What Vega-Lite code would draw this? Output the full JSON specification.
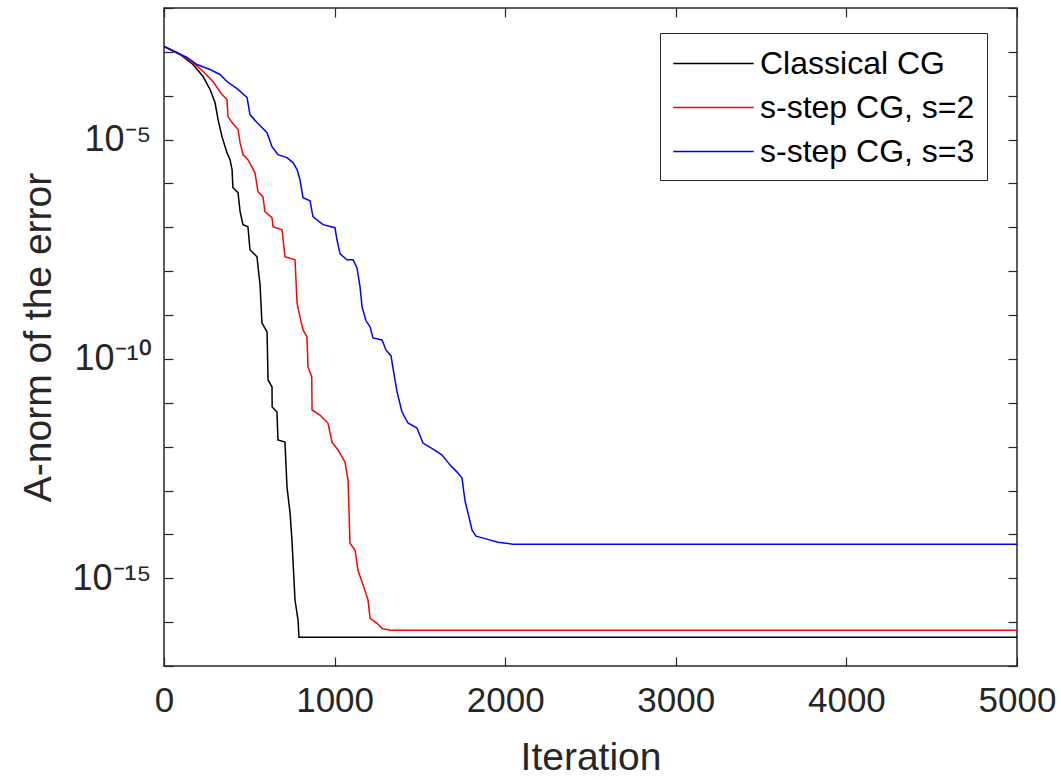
{
  "$schema": "https://vega.github.io/schema/vega-lite/v6.json",
  "autosize": {"type": "none"},
  "padding": {"left": 164, "top": 8, "right": 44, "bottom": 114},
  "width": 853,
  "height": 658,
  "background": "white",
  "config": {
    "view": {"stroke": "#262626", "strokeWidth": 1.5},
    "font": "Liberation Sans",
    "axis": {
      "domain": false,
      "grid": false,
      "tickColor": "#262626",
      "tickWidth": 1.2,
      "tickSize": -9,
      "labelColor": "#262626",
      "titleColor": "#262626",
      "labelFont": "Liberation Sans",
      "titleFont": "Liberation Sans",
      "titleFontWeight": "normal",
      "labelFontSize": 35,
      "titleFontSize": 39
    }
  },
  "data": {
    "values": [
      {"s": "Classical CG", "it": 0, "e": 1.33e-3},
      {"s": "Classical CG", "it": 94, "e": 8.7e-4},
      {"s": "Classical CG", "it": 170, "e": 5.15e-4},
      {"s": "Classical CG", "it": 229, "e": 2.74e-4},
      {"s": "Classical CG", "it": 270, "e": 1.39e-4},
      {"s": "Classical CG", "it": 299, "e": 7.0e-5},
      {"s": "Classical CG", "it": 317, "e": 2.86e-5},
      {"s": "Classical CG", "it": 340, "e": 1.17e-5},
      {"s": "Classical CG", "it": 369, "e": 5.05e-6},
      {"s": "Classical CG", "it": 387, "e": 3.49e-6},
      {"s": "Classical CG", "it": 399, "e": 2.07e-6},
      {"s": "Classical CG", "it": 404, "e": 8.0e-7},
      {"s": "Classical CG", "it": 434, "e": 6.17e-7},
      {"s": "Classical CG", "it": 446, "e": 2.27e-7},
      {"s": "Classical CG", "it": 463, "e": 1.15e-7},
      {"s": "Classical CG", "it": 492, "e": 1.03e-7},
      {"s": "Classical CG", "it": 504, "e": 3.08e-8},
      {"s": "Classical CG", "it": 545, "e": 2.13e-8},
      {"s": "Classical CG", "it": 563, "e": 4.89e-9},
      {"s": "Classical CG", "it": 574, "e": 6.64e-10},
      {"s": "Classical CG", "it": 604, "e": 4.13e-10},
      {"s": "Classical CG", "it": 610, "e": 3.32e-11},
      {"s": "Classical CG", "it": 633, "e": 2.30e-11},
      {"s": "Classical CG", "it": 634, "e": 8.0e-12},
      {"s": "Classical CG", "it": 662, "e": 6.17e-12},
      {"s": "Classical CG", "it": 668, "e": 1.42e-12},
      {"s": "Classical CG", "it": 709, "e": 1.27e-12},
      {"s": "Classical CG", "it": 721, "e": 1.20e-13},
      {"s": "Classical CG", "it": 739, "e": 3.05e-14},
      {"s": "Classical CG", "it": 750, "e": 7.4e-15},
      {"s": "Classical CG", "it": 768, "e": 3.15e-16},
      {"s": "Classical CG", "it": 786, "e": 1.10e-16},
      {"s": "Classical CG", "it": 791, "e": 4.5e-17},
      {"s": "Classical CG", "it": 5000, "e": 4.5e-17},
      {"s": "s-step CG, s=2", "it": 0, "e": 1.33e-3},
      {"s": "s-step CG, s=2", "it": 76, "e": 9.7e-4},
      {"s": "s-step CG, s=2", "it": 170, "e": 5.73e-4},
      {"s": "s-step CG, s=2", "it": 229, "e": 3.57e-4},
      {"s": "s-step CG, s=2", "it": 287, "e": 2.11e-4},
      {"s": "s-step CG, s=2", "it": 340, "e": 1.06e-4},
      {"s": "s-step CG, s=2", "it": 369, "e": 8.2e-5},
      {"s": "s-step CG, s=2", "it": 375, "e": 3.35e-5},
      {"s": "s-step CG, s=2", "it": 399, "e": 2.44e-5},
      {"s": "s-step CG, s=2", "it": 434, "e": 1.69e-5},
      {"s": "s-step CG, s=2", "it": 446, "e": 8.5e-6},
      {"s": "s-step CG, s=2", "it": 463, "e": 4.55e-6},
      {"s": "s-step CG, s=2", "it": 492, "e": 3.49e-6},
      {"s": "s-step CG, s=2", "it": 533, "e": 1.77e-6},
      {"s": "s-step CG, s=2", "it": 551, "e": 6.5e-7},
      {"s": "s-step CG, s=2", "it": 580, "e": 5.0e-7},
      {"s": "s-step CG, s=2", "it": 592, "e": 2.27e-7},
      {"s": "s-step CG, s=2", "it": 633, "e": 1.66e-7},
      {"s": "s-step CG, s=2", "it": 639, "e": 1.03e-7},
      {"s": "s-step CG, s=2", "it": 692, "e": 8.8e-8},
      {"s": "s-step CG, s=2", "it": 709, "e": 2.13e-8},
      {"s": "s-step CG, s=2", "it": 768, "e": 1.82e-8},
      {"s": "s-step CG, s=2", "it": 780, "e": 1.90e-9},
      {"s": "s-step CG, s=2", "it": 797, "e": 9.1e-10},
      {"s": "s-step CG, s=2", "it": 815, "e": 4.59e-10},
      {"s": "s-step CG, s=2", "it": 838, "e": 3.18e-10},
      {"s": "s-step CG, s=2", "it": 844, "e": 6.56e-11},
      {"s": "s-step CG, s=2", "it": 866, "e": 3.88e-11},
      {"s": "s-step CG, s=2", "it": 868, "e": 6.86e-12},
      {"s": "s-step CG, s=2", "it": 914, "e": 5.26e-12},
      {"s": "s-step CG, s=2", "it": 961, "e": 3.46e-12},
      {"s": "s-step CG, s=2", "it": 985, "e": 1.27e-12},
      {"s": "s-step CG, s=2", "it": 1020, "e": 8.4e-13},
      {"s": "s-step CG, s=2", "it": 1061, "e": 4.45e-13},
      {"s": "s-step CG, s=2", "it": 1079, "e": 1.73e-13},
      {"s": "s-step CG, s=2", "it": 1090, "e": 6.3e-15},
      {"s": "s-step CG, s=2", "it": 1120, "e": 4.36e-15},
      {"s": "s-step CG, s=2", "it": 1137, "e": 1.52e-15},
      {"s": "s-step CG, s=2", "it": 1178, "e": 5.3e-16},
      {"s": "s-step CG, s=2", "it": 1196, "e": 3.15e-16},
      {"s": "s-step CG, s=2", "it": 1208, "e": 1.22e-16},
      {"s": "s-step CG, s=2", "it": 1249, "e": 9.4e-17},
      {"s": "s-step CG, s=2", "it": 1278, "e": 7.2e-17},
      {"s": "s-step CG, s=2", "it": 1325, "e": 6.5e-17},
      {"s": "s-step CG, s=2", "it": 5000, "e": 6.5e-17},
      {"s": "s-step CG, s=3", "it": 0, "e": 1.33e-3},
      {"s": "s-step CG, s=3", "it": 135, "e": 7.45e-4},
      {"s": "s-step CG, s=3", "it": 193, "e": 5.15e-4},
      {"s": "s-step CG, s=3", "it": 270, "e": 3.96e-4},
      {"s": "s-step CG, s=3", "it": 328, "e": 3.05e-4},
      {"s": "s-step CG, s=3", "it": 369, "e": 2.11e-4},
      {"s": "s-step CG, s=3", "it": 434, "e": 1.39e-4},
      {"s": "s-step CG, s=3", "it": 487, "e": 9.1e-5},
      {"s": "s-step CG, s=3", "it": 504, "e": 3.72e-5},
      {"s": "s-step CG, s=3", "it": 545, "e": 2.44e-5},
      {"s": "s-step CG, s=3", "it": 604, "e": 1.44e-5},
      {"s": "s-step CG, s=3", "it": 633, "e": 6.9e-6},
      {"s": "s-step CG, s=3", "it": 668, "e": 4.55e-6},
      {"s": "s-step CG, s=3", "it": 721, "e": 3.88e-6},
      {"s": "s-step CG, s=3", "it": 756, "e": 2.99e-6},
      {"s": "s-step CG, s=3", "it": 780, "e": 2.07e-6},
      {"s": "s-step CG, s=3", "it": 797, "e": 1.22e-6},
      {"s": "s-step CG, s=3", "it": 815, "e": 4.74e-7},
      {"s": "s-step CG, s=3", "it": 856, "e": 4.05e-7},
      {"s": "s-step CG, s=3", "it": 873, "e": 1.75e-7},
      {"s": "s-step CG, s=3", "it": 932, "e": 1.15e-7},
      {"s": "s-step CG, s=3", "it": 1002, "e": 9.8e-8},
      {"s": "s-step CG, s=3", "it": 1014, "e": 5.21e-8},
      {"s": "s-step CG, s=3", "it": 1032, "e": 2.49e-8},
      {"s": "s-step CG, s=3", "it": 1073, "e": 1.82e-8},
      {"s": "s-step CG, s=3", "it": 1108, "e": 1.82e-8},
      {"s": "s-step CG, s=3", "it": 1131, "e": 1.20e-8},
      {"s": "s-step CG, s=3", "it": 1149, "e": 4.41e-9},
      {"s": "s-step CG, s=3", "it": 1161, "e": 1.54e-9},
      {"s": "s-step CG, s=3", "it": 1184, "e": 7.4e-10},
      {"s": "s-step CG, s=3", "it": 1208, "e": 5.38e-10},
      {"s": "s-step CG, s=3", "it": 1225, "e": 3.01e-10},
      {"s": "s-step CG, s=3", "it": 1278, "e": 2.71e-10},
      {"s": "s-step CG, s=3", "it": 1301, "e": 1.60e-10},
      {"s": "s-step CG, s=3", "it": 1331, "e": 1.17e-10},
      {"s": "s-step CG, s=3", "it": 1342, "e": 6.24e-11},
      {"s": "s-step CG, s=3", "it": 1366, "e": 1.77e-11},
      {"s": "s-step CG, s=3", "it": 1395, "e": 6.17e-12},
      {"s": "s-step CG, s=3", "it": 1430, "e": 3.46e-12},
      {"s": "s-step CG, s=3", "it": 1483, "e": 2.66e-12},
      {"s": "s-step CG, s=3", "it": 1518, "e": 1.21e-12},
      {"s": "s-step CG, s=3", "it": 1577, "e": 8.8e-13},
      {"s": "s-step CG, s=3", "it": 1630, "e": 6.43e-13},
      {"s": "s-step CG, s=3", "it": 1677, "e": 3.80e-13},
      {"s": "s-step CG, s=3", "it": 1718, "e": 2.63e-13},
      {"s": "s-step CG, s=3", "it": 1747, "e": 1.92e-13},
      {"s": "s-step CG, s=3", "it": 1764, "e": 6.0e-14},
      {"s": "s-step CG, s=3", "it": 1782, "e": 3.05e-14},
      {"s": "s-step CG, s=3", "it": 1806, "e": 1.25e-14},
      {"s": "s-step CG, s=3", "it": 1829, "e": 9.1e-15},
      {"s": "s-step CG, s=3", "it": 1893, "e": 7.8e-15},
      {"s": "s-step CG, s=3", "it": 1958, "e": 6.6e-15},
      {"s": "s-step CG, s=3", "it": 2046, "e": 5.97e-15},
      {"s": "s-step CG, s=3", "it": 5000, "e": 5.97e-15}
    ]
  },
  "layer": [
    {
      "mark": {"type": "line", "strokeWidth": 1.5, "clip": true},
      "encoding": {
        "x": {
          "field": "it", "type": "quantitative",
          "scale": {"domain": [0, 5000], "nice": false, "zero": false},
          "axis": {
            "title": "Iteration",
            "values": [0, 1000, 2000, 3000, 4000, 5000],
            "format": "d",
            "labelPadding": 26,
            "titlePadding": 20,
            "labelFlush": false,
            "labelOverlap": false
          }
        },
        "y": {
          "field": "e", "type": "quantitative",
          "scale": {"type": "log", "domain": [1e-17, 1e-2], "nice": false},
          "axis": {
            "title": "A-norm of the error",
            "values": [1e-17, 1e-16, 1e-15, 1e-14, 1e-13, 1e-12, 1e-11, 1e-10, 1e-9, 1e-8, 1e-7, 1e-6, 1e-5, 1e-4, 1e-3, 1e-2],
            "labelExpr": "round(log(datum.value)/LN10) == -5 ? '10⁻⁵' : round(log(datum.value)/LN10) == -10 ? '10⁻¹⁰' : round(log(datum.value)/LN10) == -15 ? '10⁻¹⁵' : ''",
            "labelFontSize": 36,
            "labelPadding": 22,
            "titlePadding": 14,
            "labelFlush": false,
            "labelOverlap": false
          }
        },
        "color": {
          "field": "s", "type": "nominal",
          "scale": {
            "domain": ["Classical CG", "s-step CG, s=2", "s-step CG, s=3"],
            "range": ["#000000", "#ff0000", "#0000ff"]
          },
          "legend": {
            "title": null,
            "orient": "none",
            "legendX": 496,
            "legendY": 25,
            "direction": "vertical",
            "symbolType": "M-2.3,0H2.3",
            "symbolSize": 1225,
            "symbolOffset": 23,
            "symbolStrokeWidth": 1.5,
            "labelFontSize": 32,
            "labelFont": "Liberation Sans",
            "labelColor": "#000000",
            "labelLimit": 500,
            "labelOffset": 28,
            "rowPadding": 9,
            "padding": 12,
            "strokeColor": "#262626",
            "fillColor": "white",
            "cornerRadius": 0
          }
        }
      }
    },
    {
      "mark": {"type": "point", "opacity": 0},
      "encoding": {
        "x": {
          "field": "it", "type": "quantitative",
          "axis": {"orient": "top", "values": [0, 1000, 2000, 3000, 4000, 5000], "labels": false, "title": null}
        },
        "y": {
          "field": "e", "type": "quantitative",
          "axis": {
            "orient": "right",
            "values": [1e-17, 1e-16, 1e-15, 1e-14, 1e-13, 1e-12, 1e-11, 1e-10, 1e-9, 1e-8, 1e-7, 1e-6, 1e-5, 1e-4, 1e-3, 1e-2],
            "labels": false, "title": null
          }
        }
      }
    }
  ],
  "resolve": {"axis": {"x": "independent", "y": "independent"}}
}
